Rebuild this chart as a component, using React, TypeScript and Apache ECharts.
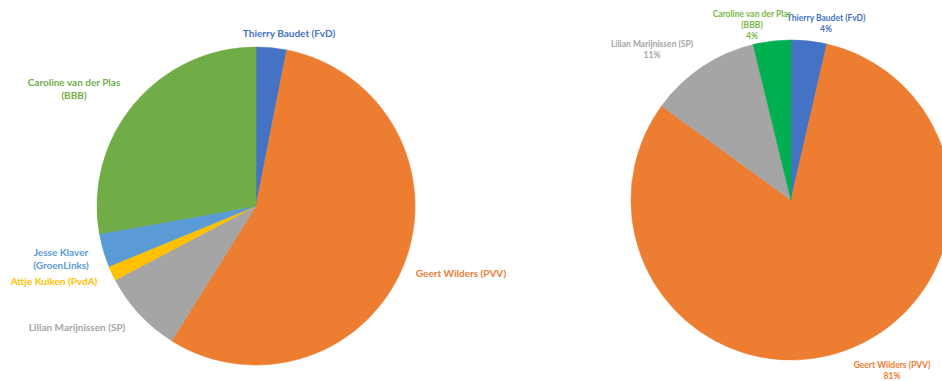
import React, { useEffect, useRef } from "react";
import * as echarts from "echarts";

// Left pie: share (%) per candidate, clockwise from 12 o'clock
const leftNames = [
  "Thierry Baudet (FvD)",
  "Geert Wilders (PVV)",
  "Lilian Marijnissen (SP)",
  "Attje Kuiken (PvdA)",
  "Jesse Klaver\n(GroenLinks)",
  "Caroline van der Plas\n(BBB)",
];
const leftValues = [3.1, 55.8, 8.4, 1.5, 3.4, 27.8];
const leftColors = ["#4472C4", "#ED7D31", "#A5A5A5", "#FFC000", "#5B9BD5", "#70AD47"];
const leftLabelColors = ["#4472C4", "#ED7D31", "#A5A5A5", "#FFC000", "#5B9BD5", "#70AD47"];

// Right pie
const rightNames = [
  "Thierry Baudet (FvD)",
  "Geert Wilders (PVV)",
  "Lilian Marijnissen (SP)",
  "Caroline van der Plas\n(BBB)",
];
const rightValues = [3.6, 81.4, 11.2, 3.8];
const rightColors = ["#4472C4", "#ED7D31", "#A5A5A5", "#00B050"];
const rightLabelColors = ["#4472C4", "#ED7D31", "#A5A5A5", "#7AB648"];

// label anchor positions (px, centre of text block)
const leftLabelPos = [
  [289, 33],
  [461, 273],
  [77, 327],
  [54, 281],
  [61, 258],
  [74, 88],
];
const rightLabelPos = [
  [826, 23],
  [892, 370],
  [652, 49],
  [752, 25],
];

export default function App() {
  const ref = useRef<HTMLDivElement>(null);
  useEffect(() => {
    document.body.style.margin = "0";
    const chart = echarts.init(ref.current!, null, { renderer: "svg" });
    const font = "Lato, 'Open Sans', sans-serif";
    chart.setOption({
      animation: false,
      backgroundColor: "#ffffff",
      series: [
        {
          type: "pie",
          center: [256, 206],
          radius: 159,
          startAngle: 90,
          clockwise: true,
          avoidLabelOverlap: false,
          data: leftNames.map((n, i) => ({
            name: n,
            value: leftValues[i],
            itemStyle: { color: leftColors[i], borderColor: leftColors[i], borderWidth: 0.6 },
            label: { color: leftLabelColors[i] },
          })),
          label: {
            show: true,
            position: "outside",
            formatter: "{b}",
            fontFamily: font,
            fontWeight: "bold",
            fontSize: 10,
            lineHeight: 13,
            align: "center",
          },
          labelLine: { show: false },
          labelLayout: (p: any) => ({
            x: leftLabelPos[p.dataIndex][0],
            y: leftLabelPos[p.dataIndex][1],
            align: "center",
            verticalAlign: "middle",
          }),
        },
        {
          type: "pie",
          center: [791, 200],
          radius: 160,
          startAngle: 90,
          clockwise: true,
          percentPrecision: 0,
          avoidLabelOverlap: false,
          data: rightNames.map((n, i) => ({
            name: n,
            value: rightValues[i],
            itemStyle: { color: rightColors[i], borderColor: rightColors[i], borderWidth: 0.6 },
            label: { color: rightLabelColors[i] },
          })),
          label: {
            show: true,
            position: "outside",
            formatter: "{b}\n{d}%",
            fontFamily: font,
            fontWeight: "bold",
            fontSize: 8.5,
            lineHeight: 11,
            align: "center",
          },
          labelLine: { show: false },
          labelLayout: (p: any) => ({
            x: rightLabelPos[p.dataIndex][0],
            y: rightLabelPos[p.dataIndex][1],
            align: "center",
            verticalAlign: "middle",
          }),
        },
      ],
    });
    return () => chart.dispose();
  }, []);
  return <div ref={ref} style={{ width: 942, height: 381 }} />;
}
